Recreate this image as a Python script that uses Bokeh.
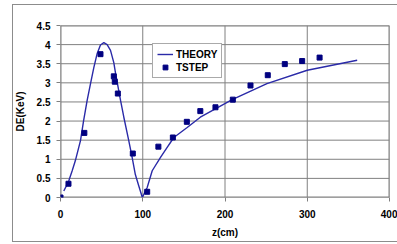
from bokeh.plotting import figure
from bokeh.models import Range1d, FixedTicker, Legend, LegendItem
from bokeh.embed import file_html
from bokeh.resources import INLINE

theory_z = [4, 10, 14.2, 18, 24.3, 28, 32.4, 36.5, 40.5, 44.6, 48.6, 52.7, 56.7, 60.8,
            64.8, 67, 73, 77, 83, 87.1, 91, 95.2, 99.5,
            105.4, 111.5, 121.6, 129.7, 137.8, 154, 170, 208.7, 251, 300, 360.7]
theory_de = [0.17, 0.43, 0.7, 0.96, 1.49, 2.0, 2.54, 2.98, 3.4, 3.77, 3.99, 4.05, 4.0, 3.85,
             3.53, 3.24, 2.54, 2.1, 1.49, 1.05, 0.6, 0.3, 0.0,
             0.26, 0.7, 1.05, 1.31, 1.57, 1.83, 2.1, 2.56, 2.98, 3.33, 3.59]

tstep_z = [0, 9.7, 29, 48.6, 64.8, 66, 69.7, 87.9, 105.4, 119, 136.6, 153.6, 170,
           188.4, 209.5, 231, 252, 272.7, 293.8, 315]
tstep_de = [0, 0.36, 1.69, 3.75, 3.17, 3.03, 2.72, 1.15, 0.15, 1.33, 1.57, 1.98, 2.26,
            2.36, 2.56, 2.93, 3.2, 3.49, 3.57, 3.66]

x_ticks = [0, 100, 200, 300, 400]
y_ticks = [0, 0.5, 1, 1.5, 2, 2.5, 3, 3.5, 4, 4.5]
y_labels = ["0", "0.5", "1", "1.5", "2", "2.5", "3", "3.5", "4", "4.5"]

FONT = "Liberation Sans"
GRID = "#808080"
BORDER = "#8c8c8c"

p = figure(width=397, height=244, output_backend="svg", toolbar_location=None,
           x_range=Range1d(x_ticks[0], x_ticks[-1]), y_range=Range1d(y_ticks[0], y_ticks[-1]),
           min_border_left=60, min_border_right=8, min_border_top=25, min_border_bottom=47)

p.background_fill_color = "white"
p.border_fill_color = None
p.outline_line_color = None
p.styles = {
    "background-color": "white",
    "background-image": "linear-gradient(%s,%s), linear-gradient(%s,%s), linear-gradient(%s,%s)"
                        % (BORDER, BORDER, BORDER, BORDER, BORDER, BORDER),
    "background-size": "1px 238px, 390px 1px, 390px 1px",
    "background-position": "12px 4px, 12px 4px, 12px 241px",
    "background-repeat": "no-repeat",
}

xt = FixedTicker(ticks=x_ticks)
yt = FixedTicker(ticks=y_ticks)
p.xaxis.ticker = xt
p.yaxis.ticker = yt
p.xgrid.ticker = xt
p.ygrid.ticker = yt
p.xgrid.grid_line_color = None
p.ygrid.grid_line_color = None
p.yaxis.major_label_overrides = dict(zip(y_ticks, y_labels))

for ax in (p.xaxis[0], p.yaxis[0]):
    ax.major_label_text_font = FONT
    ax.major_label_text_font_style = "bold"
    ax.major_label_text_font_size = "10px"
    ax.major_label_text_color = "black"
    ax.axis_label_text_font = FONT
    ax.axis_label_text_font_style = "bold"
    ax.axis_label_text_font_size = "10px"
    ax.axis_label_text_color = "black"
    ax.axis_line_color = None
    ax.major_tick_line_color = GRID
    ax.major_tick_out = 4
    ax.major_tick_in = 0
p.xaxis.axis_label = "z(cm)"
p.yaxis.axis_label = "DE(KeV)"
p.xaxis.major_label_standoff = 8
p.yaxis.major_label_standoff = 6
p.xaxis.axis_label_standoff = 6
p.yaxis.axis_label_standoff = 8

# gridlines drawn from the tick arrays (normal glyph level)
nx, ny = len(x_ticks), len(y_ticks)
p.segment(x0=x_ticks, y0=[y_ticks[0]] * nx, x1=x_ticks, y1=[y_ticks[-1]] * nx,
          line_color=GRID, line_width=1)
p.segment(x0=[x_ticks[0]] * ny, y0=y_ticks, x1=[x_ticks[-1]] * ny, y1=y_ticks,
          line_color=GRID, line_width=1)
# plot-area edges (half clipped by the frame, so drawn wider)
ex = [x_ticks[0], x_ticks[-1]]
ey = [y_ticks[0], y_ticks[-1]]
p.segment(x0=ex, y0=[ey[0]] * 2, x1=ex, y1=[ey[1]] * 2, line_color=GRID, line_width=2)
p.segment(x0=[ex[0]] * 2, y0=ey, x1=[ex[1]] * 2, y1=ey, line_color=GRID, line_width=2)

r_line = p.line(theory_z, theory_de, line_color="#2a2aa8", line_width=1.4)
r_pts = p.scatter(tstep_z, tstep_de, marker="square", size=5,
                  fill_color="#000080", line_color="#000080")

legend = Legend(items=[LegendItem(label="THEORY", renderers=[r_line]),
                       LegendItem(label="TSTEP", renderers=[r_pts])],
                location=(92, 119))
legend.label_text_font = FONT
legend.label_text_font_style = "bold"
legend.label_text_font_size = "10px"
legend.label_text_color = "black"
legend.border_line_color = "#555555"
legend.border_line_width = 1
legend.background_fill_color = "white"
legend.background_fill_alpha = 1
legend.glyph_width = 16
legend.glyph_height = 12
legend.label_standoff = 3
legend.padding = 4
legend.spacing = 1
legend.margin = 0
p.add_layout(legend, "center")

open("out.html", "w").write(file_html(p, INLINE))
